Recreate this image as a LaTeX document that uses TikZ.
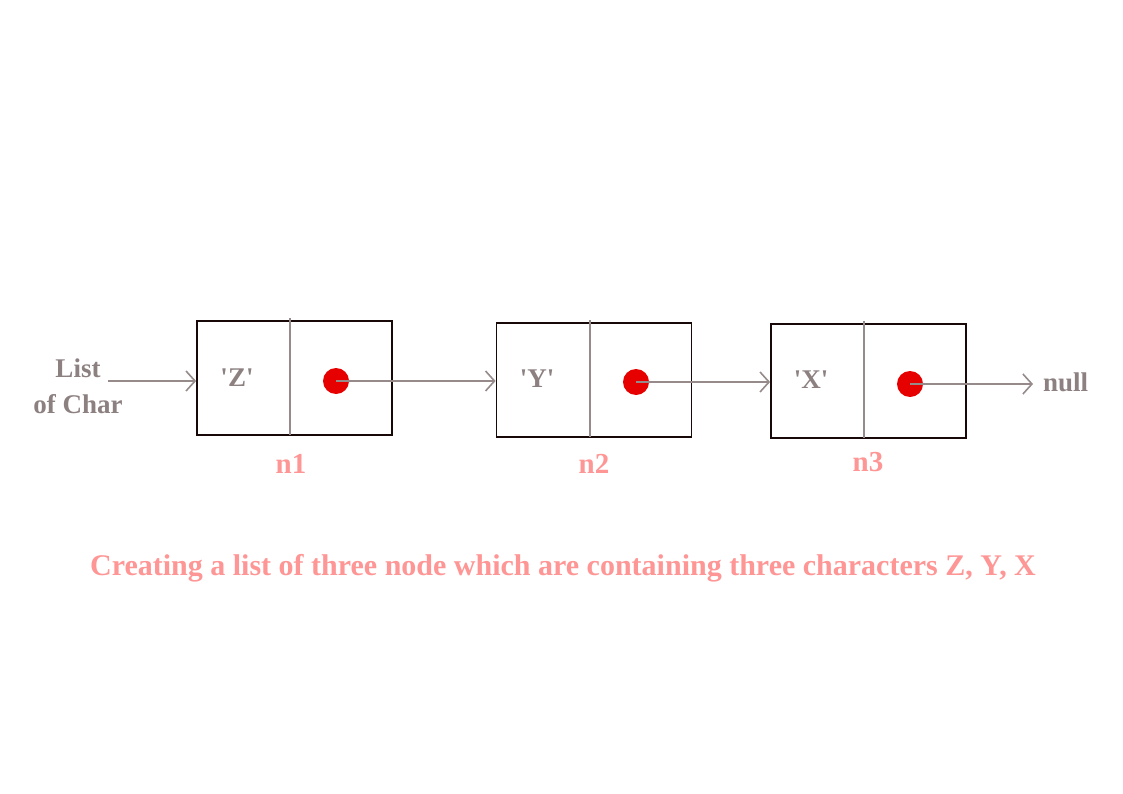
\documentclass[tikz,border=0pt]{standalone}
\usepackage{fontspec}
\setmainfont{Liberation Serif}
\usetikzlibrary{arrows.meta}
\definecolor{txtgray}{RGB}{140,128,128}
\definecolor{linegray}{RGB}{150,138,138}
\definecolor{pinklbl}{RGB}{255,150,150}
\definecolor{boxline}{RGB}{25,8,8}
\definecolor{dotred}{RGB}{230,0,0}
\tikzset{
  cell/.style={draw=boxline, line width=1.8pt, fill=white, minimum width=195pt, minimum height=114pt, inner sep=0pt},
  divider/.style={draw=linegray, line width=1.6pt},
  ptr/.style={circle, fill=dotred, minimum size=26pt, inner sep=0pt},
  link/.style={draw=linegray, line width=1.6pt, -{Straight Barb[length=9pt,width=20pt,line width=1.6pt]}},
  gtext/.style={text=txtgray, font=\bfseries\fontsize{27}{36}\selectfont},
  ltext/.style={text=pinklbl, font=\bfseries\fontsize{29}{34}\selectfont},
}
\begin{document}
\begin{tikzpicture}[x=1pt,y=-1pt]
\useasboundingbox (0,0) rectangle (1123,794);
% boxes
\node[cell] (b1) at (294.5,378) {};
\node[cell] (b2) at (594,380) {};
\node[cell] (b3) at (868.5,381) {};
\draw[divider] (290,318) -- (290,435);
\draw[divider] (590,320) -- (590,437);
\draw[divider] (864,321) -- (864,438);
% values
\node[gtext] (v1) at (237,378) {\textquotesingle Z\textquotesingle};
\node[gtext] (v2) at (537,379) {\textquotesingle Y\textquotesingle};
\node[gtext] (v3) at (811,380) {\textquotesingle X\textquotesingle};
% pointer dots
\node[ptr] (p1) at (336,381) {};
\node[ptr] (p2) at (636,382) {};
\node[ptr] (p3) at (910,384) {};
% labels
\node[gtext, align=center] (lst) at (78,386) {List\\of Char};
\node[gtext, anchor=west, inner sep=0pt] (null) at (1043,382) {null};
\coordinate (lstend) at (108,381);
% connectors
\draw[link] (lstend) -- (b1.west |- lstend);
\draw[link] (p1.center) -- (b2.west |- p1.center);
\draw[link] (p2.center) -- (b3.west |- p2.center);
\draw[link, shorten >=10pt] (p3.center) -- (null.west |- p3.center);
% names
\node[ltext] (n1) at (291,464) {n1};
\node[ltext] (n2) at (594,464) {n2};
\node[ltext] (n3) at (868,462) {n3};
\node[ltext, font=\bfseries\fontsize{30}{34}\selectfont] (cap) at (563,568) {Creating a list of three node which are containing three characters Z, Y, X};
\end{tikzpicture}
\end{document}
